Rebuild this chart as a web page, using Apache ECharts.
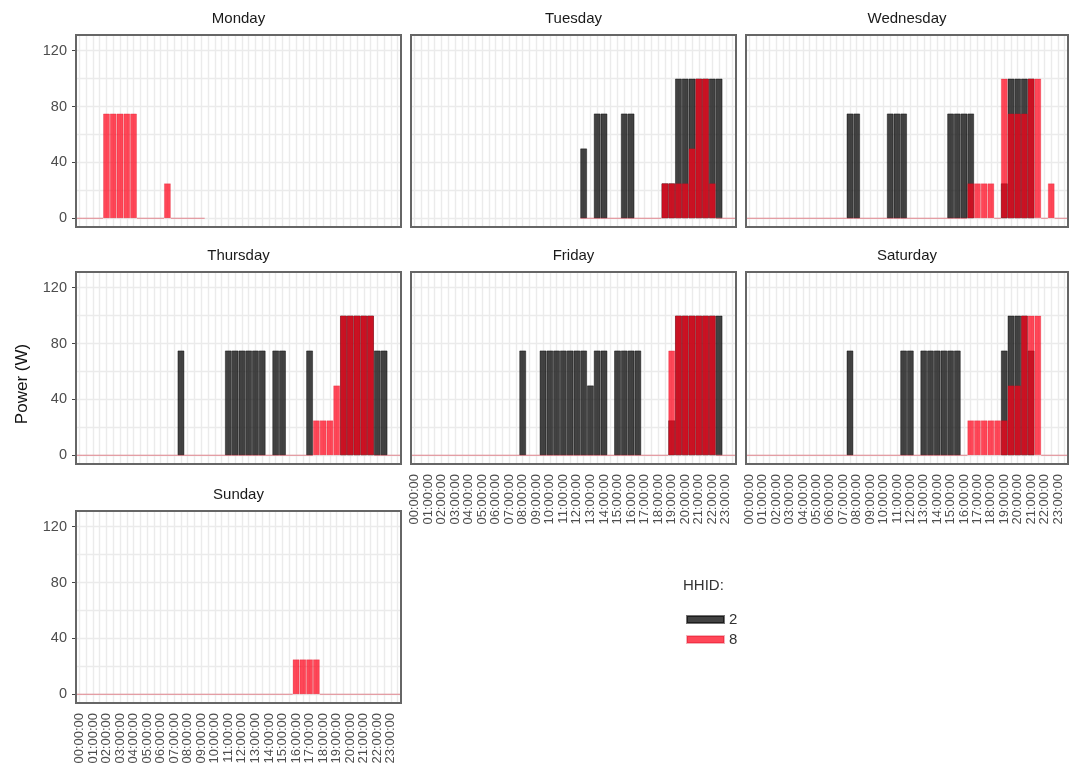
<!DOCTYPE html>
<html>
<head>
<meta charset="utf-8">
<script src="https://cdn.jsdelivr.net/npm/echarts@6/dist/echarts.min.js"></script>
<style>
html, body { margin: 0; padding: 0; background: #fff; }
#chart { width: 1070px; height: 767px; }
</style>
</head>
<body>
<div id="chart"></div>
<script>
const N = null;
const days = ["Monday", "Tuesday", "Wednesday", "Thursday", "Friday", "Saturday", "Sunday"];
const households = ["2", "8"];
const yTicks = [0, 40, 80, 120];
const yGrid = [0, 20, 40, 60, 80, 100, 120];

// half hour slots, label every full hour
const slots = [];
for (let h = 0; h < 24; h++) {
  const hh = String(h).padStart(2, "0");
  slots.push(hh + ":00:00", hh + ":30:00");
}

// power (W) per half hour slot, HHID 2
const monday2 = [
  N, N, N, N, N, N, N, N, N, N, N, N,
  N, N, N, N, N, N, N, N, N, N, N, N,
  N, N, N, N, N, N, N, N, N, N, N, N,
  N, N, N, N, N, N, N, N, N, N, N, N
];
const tuesday2 = [
  N, N, N, N, N, N, N, N, N, N, N, N,
  N, N, N, N, N, N, N, N, N, N, N, N,
  N, 50, N, 75, 75, N, N, 75, 75, N, N, N,
  N, 25, 25, 100, 100, 100, 100, 100, 100, 100, N, N
];
const wednesday2 = [
  N, N, N, N, N, N, N, N, N, N, N, N,
  N, N, N, 75, 75, N, N, N, N, 75, 75, 75,
  N, N, N, N, N, N, 75, 75, 75, 75, N, N,
  N, N, 25, 100, 100, 100, 100, N, N, N, N, N
];
const thursday2 = [
  N, N, N, N, N, N, N, N, N, N, N, N,
  N, N, N, 75, N, N, N, N, N, N, 75, 75,
  75, 75, 75, 75, N, 75, 75, N, N, N, 75, N,
  N, N, N, 100, 100, 100, 100, 100, 75, 75, N, N
];
const friday2 = [
  N, N, N, N, N, N, N, N, N, N, N, N,
  N, N, N, N, 75, N, N, 75, 75, 75, 75, 75,
  75, 75, 50, 75, 75, N, 75, 75, 75, 75, N, N,
  N, N, 25, 100, 100, 100, 100, 100, 100, 100, N, N
];
const saturday2 = [
  N, N, N, N, N, N, N, N, N, N, N, N,
  N, N, N, 75, N, N, N, N, N, N, N, 75,
  75, N, 75, 75, 75, 75, 75, 75, N, N, N, N,
  N, N, 75, 100, 100, 100, 75, N, N, N, N, N
];
const sunday2 = [
  N, N, N, N, N, N, N, N, N, N, N, N,
  N, N, N, N, N, N, N, N, N, N, N, N,
  N, N, N, N, N, N, N, N, N, N, N, N,
  N, N, N, N, N, N, N, N, N, N, N, N
];

// power (W) per half hour slot, HHID 8
const monday8 = [
  0, 0, 0, 0, 75, 75, 75, 75, 75, 0, 0, 0,
  0, 25, 0, 0, 0, 0, 0, N, N, N, N, N,
  N, N, N, N, N, N, N, N, N, N, N, N,
  N, N, N, N, N, N, N, N, N, N, N, N
];
const tuesday8 = [
  N, N, N, N, N, N, N, N, N, N, N, N,
  N, N, N, N, N, N, N, N, N, N, N, N,
  N, 0, 0, 0, 0, 0, 0, 0, 0, 0, 0, 0,
  0, 25, 25, 25, 25, 50, 100, 100, 25, 0, 0, 0
];
const wednesday8 = [
  0, 0, 0, 0, 0, 0, 0, 0, 0, 0, 0, 0,
  0, 0, 0, 0, 0, 0, 0, 0, 0, 0, 0, 0,
  0, 0, 0, 0, 0, 0, 0, 0, 0, 25, 25, 25,
  25, 0, 100, 75, 75, 75, 100, 100, 0, 25, 0, 0
];
const thursday8 = [
  0, 0, 0, 0, 0, 0, 0, 0, 0, 0, 0, 0,
  0, 0, 0, 0, 0, 0, 0, 0, 0, 0, 0, 0,
  0, 0, 0, 0, 0, 0, 0, 0, 0, 0, 0, 25,
  25, 25, 50, 100, 100, 100, 100, 100, 0, 0, 0, 0
];
const friday8 = [
  0, 0, 0, 0, 0, 0, 0, 0, 0, 0, 0, 0,
  0, 0, 0, 0, 0, 0, 0, 0, 0, 0, 0, 0,
  0, 0, 0, 0, 0, 0, 0, 0, 0, 0, 0, 0,
  0, 0, 75, 100, 100, 100, 100, 100, 100, 0, 0, 0
];
const saturday8 = [
  0, 0, 0, 0, 0, 0, 0, 0, 0, 0, 0, 0,
  0, 0, 0, 0, 0, 0, 0, 0, 0, 0, 0, 0,
  0, 0, 0, 0, 0, 0, 0, 0, 0, 25, 25, 25,
  25, 25, 25, 50, 50, 100, 100, 100, 0, 0, 0, 0
];
const sunday8 = [
  0, 0, 0, 0, 0, 0, 0, 0, 0, 0, 0, 0,
  0, 0, 0, 0, 0, 0, 0, 0, 0, 0, 0, 0,
  0, 0, 0, 0, 0, 0, 0, 0, 25, 25, 25, 25,
  0, 0, 0, 0, 0, 0, 0, 0, 0, 0, 0, 0
];

const hh2 = [monday2, tuesday2, wednesday2, thursday2, friday2, saturday2, sunday2];
const hh8 = [monday8, tuesday8, wednesday8, thursday8, friday8, saturday8, sunday8];

const colLeft = [76, 411, 746];
const colWidth = [325, 325, 322];
const rowTop = [35, 272, 511];
const panelH = 192;
// panels at the bottom of each column get the time labels
const showX = [false, false, false, false, true, true, true];

const color2 = "rgba(25,25,25,0.82)";
const color8 = "rgba(255,0,24,0.72)";
const gridColor = "#ebebeb";

const grids = [], xAxes = [], yAxes = [], series = [], graphics = [];

days.forEach((day, i) => {
  const col = i % 3, row = Math.floor(i / 3);
  grids.push({
    left: colLeft[col], top: rowTop[row], width: colWidth[col], height: panelH, z: 10,
    show: true, borderColor: "#666", borderWidth: 2, backgroundColor: "transparent"
  });
  xAxes.push({
    type: "category", gridIndex: i, data: slots, boundaryGap: true,
    axisLine: { show: false },
    axisTick: { show: false },
    axisLabel: {
      show: showX[i], interval: 1, rotate: 90, margin: 10,
      fontSize: 13, color: "#4d4d4d", fontFamily: "Liberation Sans"
    },
    splitLine: { show: true, interval: 0, alignWithLabel: true, lineStyle: { color: gridColor, width: 1.4 } }
  });
  yAxes.push({
    type: "value", gridIndex: i, min: -6.25, max: 131.25,
    axisLine: { show: false },
    axisTick: { show: col === 0, customValues: yTicks, length: 4, lineStyle: { color: "#444" } },
    axisLabel: {
      show: col === 0, customValues: yTicks, margin: 9,
      fontSize: 14.5, color: "#4d4d4d", fontFamily: "Liberation Sans"
    },
    splitLine: { show: false }
  });
  series.push({
    name: households[0], type: "bar", xAxisIndex: i, yAxisIndex: i,
    data: hh2[i], barWidth: "100%", barGap: "-100%", z: 2,
    itemStyle: { color: color2, borderColor: "rgba(0,0,0,0.55)", borderWidth: 0.8 },
    markLine: {
      silent: true, symbol: ["none", "none"], z: 1, animation: false,
      label: { show: false },
      lineStyle: { color: gridColor, width: 1.4, type: "solid" },
      data: yGrid.map(v => ({ yAxis: v }))
    }
  });
  series.push({
    name: households[1], type: "bar", xAxisIndex: i, yAxisIndex: i,
    data: hh8[i], barWidth: "100%", barGap: "-100%", z: 3,
    itemStyle: { color: color8, borderColor: "rgba(215,0,25,0.3)", borderWidth: 0.8 }
  });
  graphics.push({
    type: "text", x: colLeft[col] + colWidth[col] / 2, y: rowTop[row] - 16,
    style: {
      text: day, align: "center", verticalAlign: "middle",
      font: "15px 'Liberation Sans'", fill: "#1a1a1a"
    }
  });
});

graphics.push({
  type: "text", x: 22, y: 384, rotation: Math.PI / 2,
  style: { text: "Power (W)", align: "center", verticalAlign: "middle", font: "17px 'Liberation Sans'", fill: "#111" }
});
graphics.push({
  type: "text", x: 683, y: 586,
  style: { text: "HHID:", align: "left", verticalAlign: "middle", font: "15px 'Liberation Sans'", fill: "#333" }
});

const chart = echarts.init(document.getElementById("chart"));
chart.setOption({
  animation: false,
  backgroundColor: "#fff",
  grid: grids,
  xAxis: xAxes,
  yAxis: yAxes,
  series: series,
  graphic: graphics,
  legend: {
    data: households, orient: "vertical", left: 681, top: 607,
    icon: "rect", itemWidth: 37, itemHeight: 7, itemGap: 5,
    selectedMode: false,
    textStyle: { fontSize: 15, color: "#333", fontFamily: "Liberation Sans" }
  }
});
</script>
</body>
</html>
